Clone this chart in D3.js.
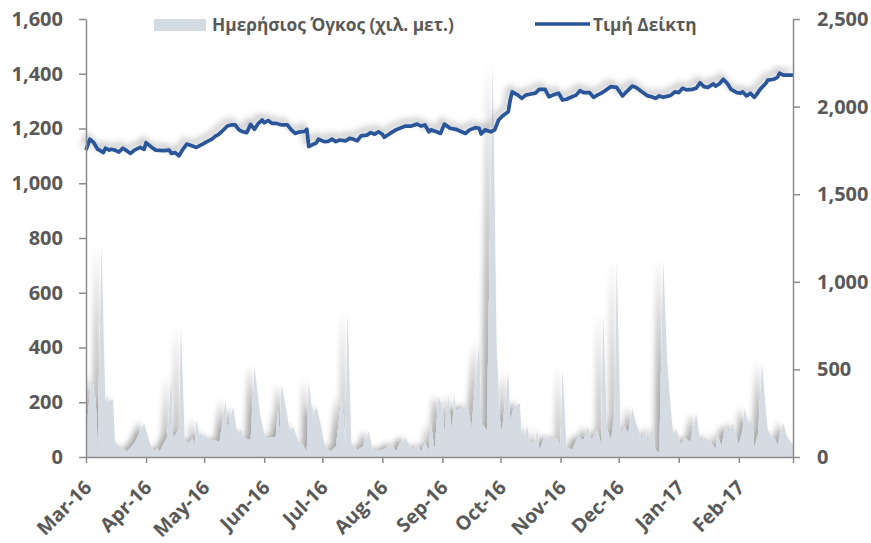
<!DOCTYPE html>
<html>
<head>
<meta charset="utf-8">
<script src="https://cdn.jsdelivr.net/npm/d3@7/dist/d3.min.js"></script>
<style>
  body { margin: 0; background: #fff; }
  svg text { font-family: "Open Sans", "DejaVu Sans", sans-serif; font-weight: bold; fill: #595959; }
</style>
</head>
<body>
<div id="chart"></div>
<script>
// index price (left axis)
var priceDates = [
  "2016-03-01","2016-03-03","2016-03-05","2016-03-07","2016-03-08","2016-03-10","2016-03-11","2016-03-13","2016-03-14","2016-03-16",
  "2016-03-18","2016-03-20","2016-03-22","2016-03-24","2016-03-26","2016-03-29","2016-03-31","2016-04-01","2016-04-04","2016-04-06",
  "2016-04-10","2016-04-13","2016-04-14","2016-04-16","2016-04-18","2016-04-20","2016-04-22","2016-04-25","2016-04-27","2016-04-30",
  "2016-05-02","2016-05-05","2016-05-07","2016-05-08","2016-05-10","2016-05-13","2016-05-15","2016-05-17","2016-05-19","2016-05-21",
  "2016-05-23","2016-05-25","2016-05-27","2016-05-29","2016-05-31","2016-06-01","2016-06-03","2016-06-05","2016-06-07","2016-06-10",
  "2016-06-13","2016-06-15","2016-06-17","2016-06-19","2016-06-22","2016-06-23","2016-06-24","2016-06-26","2016-06-28","2016-06-29",
  "2016-07-02","2016-07-04","2016-07-06","2016-07-08","2016-07-10","2016-07-13","2016-07-15","2016-07-17","2016-07-19","2016-07-21",
  "2016-07-24","2016-07-26","2016-07-28","2016-07-30","2016-08-01","2016-08-02","2016-08-05","2016-08-08","2016-08-10","2016-08-13",
  "2016-08-16","2016-08-19","2016-08-21","2016-08-23","2016-08-25","2016-08-26","2016-08-29","2016-08-31","2016-09-02","2016-09-05",
  "2016-09-08","2016-09-10","2016-09-13","2016-09-15","2016-09-18","2016-09-20","2016-09-21","2016-09-23","2016-09-26","2016-09-28",
  "2016-09-30","2016-10-02","2016-10-05","2016-10-06","2016-10-07","2016-10-10","2016-10-12","2016-10-14","2016-10-16","2016-10-19",
  "2016-10-21","2016-10-24","2016-10-26","2016-10-28","2016-10-31","2016-11-02","2016-11-04","2016-11-07","2016-11-09","2016-11-11",
  "2016-11-13","2016-11-16","2016-11-18","2016-11-20","2016-11-22","2016-11-25","2016-11-27","2016-11-30","2016-12-03","2016-12-05",
  "2016-12-08","2016-12-10","2016-12-13","2016-12-16","2016-12-18","2016-12-20","2016-12-22","2016-12-24","2016-12-27","2016-12-28",
  "2016-12-30","2017-01-01","2017-01-03","2017-01-05","2017-01-08","2017-01-10","2017-01-12","2017-01-14","2017-01-16","2017-01-19",
  "2017-01-20","2017-01-22","2017-01-24","2017-01-26","2017-01-28","2017-01-31","2017-02-02","2017-02-03","2017-02-05","2017-02-07",
  "2017-02-09","2017-02-10","2017-02-12","2017-02-15","2017-02-16","2017-02-19","2017-02-21","2017-02-22","2017-02-24","2017-03-01"
];
var priceValues = [
  1121,1161,1148,1124,1121,1112,1128,1121,1124,1121,
  1114,1128,1119,1109,1121,1131,1124,1148,1131,1121,
  1119,1121,1109,1112,1100,1124,1143,1136,1131,1142,
  1150,1161,1173,1176,1188,1209,1213,1213,1195,1188,
  1185,1215,1197,1219,1231,1221,1229,1219,1219,1213,
  1213,1195,1182,1187,1190,1197,1134,1141,1148,1161,
  1152,1153,1161,1152,1158,1155,1164,1161,1155,1173,
  1176,1185,1179,1188,1179,1168,1182,1195,1201,1209,
  1209,1216,1209,1213,1188,1195,1188,1182,1216,1201,
  1197,1191,1182,1195,1203,1201,1180,1195,1188,1195,
  1231,1246,1261,1304,1334,1322,1310,1322,1325,1329,
  1343,1343,1316,1322,1329,1304,1307,1316,1322,1338,
  1331,1331,1314,1322,1329,1343,1353,1350,1319,1334,
  1355,1350,1334,1319,1316,1310,1319,1314,1319,1322,
  1334,1331,1347,1341,1343,1347,1367,1353,1350,1363,
  1355,1363,1380,1365,1343,1331,1329,1334,1319,1329,
  1314,1322,1343,1365,1377,1380,1387,1402,1395,1395
];

// daily volume, thousand shares (right axis)
var volumeDates = [
  "2016-03-01","2016-03-04","2016-03-06","2016-03-07","2016-03-09","2016-03-11","2016-03-15","2016-03-16","2016-03-19","2016-03-22",
  "2016-03-26","2016-03-31","2016-04-03","2016-04-05","2016-04-07","2016-04-08","2016-04-12","2016-04-14","2016-04-15","2016-04-18",
  "2016-04-19","2016-04-21","2016-04-23","2016-04-25","2016-04-26","2016-04-27","2016-04-29","2016-05-01","2016-05-05","2016-05-06",
  "2016-05-09","2016-05-12","2016-05-13","2016-05-16","2016-05-18","2016-05-20","2016-05-22","2016-05-25","2016-05-27","2016-05-30",
  "2016-06-01","2016-06-03","2016-06-07","2016-06-08","2016-06-09","2016-06-10","2016-06-13","2016-06-14","2016-06-16","2016-06-19",
  "2016-06-21","2016-06-23","2016-06-24","2016-06-26","2016-06-28","2016-06-30","2016-07-02","2016-07-05","2016-07-08","2016-07-11",
  "2016-07-13","2016-07-14","2016-07-16","2016-07-19","2016-07-22","2016-07-25","2016-07-27","2016-07-31","2016-08-03","2016-08-06",
  "2016-08-08","2016-08-10","2016-08-13","2016-08-15","2016-08-17","2016-08-19","2016-08-21","2016-08-23","2016-08-25","2016-08-26",
  "2016-08-28","2016-08-30","2016-09-01","2016-09-02","2016-09-04","2016-09-06","2016-09-07","2016-09-08","2016-09-11","2016-09-14",
  "2016-09-16","2016-09-20","2016-09-21","2016-09-24","2016-09-27","2016-09-29","2016-10-01","2016-10-02","2016-10-05","2016-10-06",
  "2016-10-08","2016-10-11","2016-10-12","2016-10-15","2016-10-16","2016-10-19","2016-10-20","2016-10-21","2016-10-24","2016-10-27",
  "2016-10-30","2016-11-01","2016-11-02","2016-11-04","2016-11-07","2016-11-10","2016-11-13","2016-11-15","2016-11-17","2016-11-20",
  "2016-11-22","2016-11-23","2016-11-25","2016-11-27","2016-11-29","2016-11-30","2016-12-02","2016-12-04","2016-12-06","2016-12-08",
  "2016-12-10","2016-12-13","2016-12-15","2016-12-16","2016-12-18","2016-12-20","2016-12-22","2016-12-24","2016-12-26","2016-12-27",
  "2016-12-29","2016-12-31","2017-01-02","2017-01-04","2017-01-07","2017-01-10","2017-01-12","2017-01-15","2017-01-17","2017-01-20",
  "2017-01-21","2017-01-23","2017-01-25","2017-01-27","2017-01-29","2017-02-01","2017-02-03","2017-02-04","2017-02-06","2017-02-08",
  "2017-02-09","2017-02-11","2017-02-13","2017-02-15","2017-02-16","2017-02-18","2017-02-20","2017-02-21","2017-02-24","2017-02-26",
  "2017-03-01"
];
var volumeValues = [
  135,458,325,40,1210,308,329,78,59,30,
  78,192,78,30,50,30,116,458,107,154,
  744,97,78,107,63,211,107,126,93,97,
  87,325,154,287,135,154,107,97,515,230,
  135,107,116,268,135,411,230,154,173,78,
  68,30,440,230,287,192,78,30,59,344,
  59,839,78,40,59,145,40,36,50,74,
  30,78,107,68,40,68,30,78,40,192,
  40,344,287,135,344,135,363,268,278,287,
  164,655,192,154,2250,630,154,173,487,211,
  287,306,97,173,78,87,164,40,116,97,
  107,59,506,59,40,116,97,173,97,154,
  68,820,154,97,249,1124,135,173,135,278,
  192,97,154,68,173,40,21,1124,554,401,
  135,154,68,107,87,249,97,107,97,40,
  135,59,173,135,192,68,154,278,192,211,
  50,135,535,259,154,116,97,68,192,116,
  68
];

var leftTicks = [0, 200, 400, 600, 800, 1000, 1200, 1400, 1600];
var rightTicks = [0, 500, 1000, 1500, 2000, 2500];
var monthLabels = ["Mar-16","Apr-16","May-16","Jun-16","Jul-16","Aug-16","Sep-16","Oct-16","Nov-16","Dec-16","Jan-17","Feb-17"];
var seriesNames = ["Ημερήσιος Όγκος (χιλ. μετ.)", "Τιμή Δείκτη"];

var w = 871, h = 543;
var plotL = 86, plotR = 793, plotT = 19, plotB = 457;

var parse = d3.timeParse("%Y-%m-%d");
var price = priceDates.map(function(d, i) { return { date: parse(d), value: priceValues[i] }; });
var volume = volumeDates.map(function(d, i) { return { date: parse(d), value: volumeValues[i] }; });

var x = d3.scaleTime()
    .domain([parse("2016-03-01"), parse("2017-03-01")])
    .range([plotL, plotR]);
var yLeft = d3.scaleLinear().domain([0, 1600]).range([plotB, plotT]);
var yRight = d3.scaleLinear().domain([0, 2500]).range([plotB, plotT]);

var svg = d3.select("#chart").append("svg")
    .attr("width", w)
    .attr("height", h);

var defs = svg.append("defs");
defs.append("clipPath").attr("id", "plot")
  .append("rect")
    .attr("x", plotL).attr("y", plotT - 10)
    .attr("width", plotR - plotL).attr("height", plotB - plotT + 10);

// soft excel-like shadow
function shadow(id, dx, dy, blur, op) {
    var f = defs.append("filter").attr("id", id)
        .attr("x", "-10%").attr("y", "-10%").attr("width", "120%").attr("height", "120%");
    f.append("feGaussianBlur").attr("in", "SourceAlpha").attr("stdDeviation", blur).attr("result", "b");
    f.append("feOffset").attr("in", "b").attr("dx", dx).attr("dy", dy).attr("result", "o");
    f.append("feFlood").attr("flood-color", "#000").attr("flood-opacity", op).attr("result", "c");
    f.append("feComposite").attr("in", "c").attr("in2", "o").attr("operator", "in").attr("result", "s");
    var m = f.append("feMerge");
    m.append("feMergeNode").attr("in", "s");
    m.append("feMergeNode").attr("in", "SourceGraphic");
}
shadow("areaShadow", -5, -1, 3, 0.35);
shadow("lineShadow", -3, -4, 3, 0.3);

// volume area
var area = d3.area()
    .x(function(d) { return x(d.date); })
    .y0(plotB)
    .y1(function(d) { return yRight(d.value); });

svg.append("g")
    .attr("clip-path", "url(#plot)")
  .append("path")
    .datum(volume)
    .attr("d", area)
    .attr("fill", "#d5dbe3")
    .attr("filter", "url(#areaShadow)");

// index line
var line = d3.line()
    .x(function(d) { return x(d.date); })
    .y(function(d) { return yLeft(d.value); });

svg.append("path")
    .datum(price)
    .attr("d", line)
    .attr("fill", "none")
    .attr("stroke", "#2a5699")
    .attr("stroke-width", 3.7)
    .attr("stroke-linejoin", "round")
    .attr("filter", "url(#lineShadow)");

// axes
var axisColor = "#8c8c8c";
var fmt = d3.format(",");

var gl = svg.append("g").attr("transform", "translate(" + plotL + ",0)")
    .call(d3.axisLeft(yLeft).tickValues(leftTicks).tickSize(7).tickSizeOuter(0).tickPadding(16).tickFormat(fmt));
var gr = svg.append("g").attr("transform", "translate(" + plotR + ",0)")
    .call(d3.axisRight(yRight).tickValues(rightTicks).tickSize(7).tickSizeOuter(0).tickPadding(17).tickFormat(fmt));

var months = monthLabels.map(function(m) { return d3.timeParse("%b-%y")(m); });
var gx = svg.append("g").attr("transform", "translate(0," + plotB + ")")
    .call(d3.axisBottom(x).tickValues(months.concat([x.domain()[1]])).tickSize(6).tickSizeOuter(0).tickFormat(""));

gx.selectAll(".lab")
    .data(months)
    .enter().append("text")
    .attr("class", "lab")
    .attr("text-anchor", "end")
    .attr("transform", function(d) { return "translate(" + (x(d) + 2) + ",27) rotate(-45)"; })
    .attr("dy", "0.35em")
    .style("font-size", "19.5px")
    .text(function(d, i) { return monthLabels[i]; });

[gl, gr, gx].forEach(function(g) {
    g.select(".domain").attr("stroke", axisColor).attr("stroke-width", 1.5);
    g.selectAll(".tick line").attr("stroke", axisColor).attr("stroke-width", 1.5);
    g.selectAll(".tick text").style("font-size", "20px").attr("fill", "#595959");
});

// legend
var lg = svg.append("g");
lg.append("rect")
    .attr("x", 154).attr("y", 19).attr("width", 52).attr("height", 12)
    .attr("fill", "#d5dbe3");
lg.append("text")
    .attr("x", 212).attr("y", 25).attr("dy", "0.35em")
    .style("font-size", "17.3px")
    .text(seriesNames[0]);
lg.append("line")
    .attr("x1", 535).attr("x2", 590).attr("y1", 24).attr("y2", 24)
    .attr("stroke", "#2a5699").attr("stroke-width", 3.7);
lg.append("text")
    .attr("x", 593).attr("y", 25).attr("dy", "0.35em")
    .style("font-size", "17.3px")
    .text(seriesNames[1]);
</script>
</body>
</html>
